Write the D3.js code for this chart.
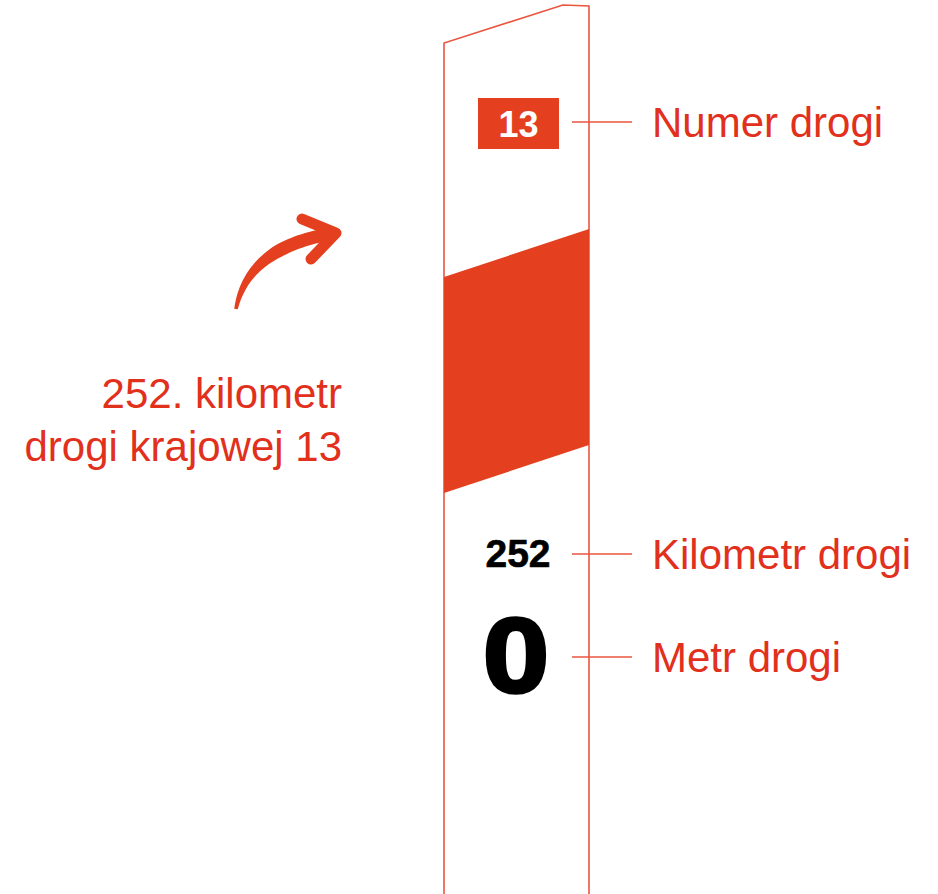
<!DOCTYPE html>
<html>
<head>
<meta charset="utf-8">
<script src="https://cdn.jsdelivr.net/npm/d3@7"></script>
<style>
  html, body { margin: 0; padding: 0; background: #fff; }
  svg { display: block; }
  text { font-family: "Liberation Sans", Arial, sans-serif; }
</style>
</head>
<body>
<div id="chart"></div>
<script>
// values shown on the post
const roadNumber = ["13"];
const kilometer = [252];
const meter = [0];
// labels on the right, top to bottom
const partLabels = ["Numer drogi", "Kilometr drogi", "Metr drogi"];
// caption on the left
const captionLines = ["252. kilometr", "drogi krajowej 13"];

const width = 938, height = 894;
const red = "#e4401f", lineRed = "#ea5640", textRed = "#e1301c";

const svg = d3.select("#chart").append("svg")
  .attr("width", width)
  .attr("height", height);

// post coordinates: x 0..1 across the post, y in pixels
const x = d3.scaleLinear().domain([0, 1]).range([444, 589]);
const slope = 48; // how much higher the right side sits

// post outline
const outline = d3.path();
outline.moveTo(x(0), height);
outline.lineTo(x(0), 43);
outline.lineTo(x(0.82), 5);
outline.lineTo(x(1), 6);
outline.lineTo(x(1), height);
svg.append("path")
  .attr("d", outline.toString())
  .attr("fill", "none")
  .attr("stroke", lineRed)
  .attr("stroke-width", 1.6);

// red slanted band
const bandTop = 277, bandBottom = 493;
svg.append("path")
  .attr("d", d3.line()([
    [x(0), bandTop], [x(1), bandTop - slope],
    [x(1), bandBottom - slope], [x(0), bandBottom]
  ]) + "Z")
  .attr("fill", red);

// road number box
svg.append("rect")
  .attr("x", 478).attr("y", 98)
  .attr("width", 81).attr("height", 51)
  .attr("fill", red);
svg.append("text")
  .attr("x", 518.5).attr("y", 137)
  .attr("text-anchor", "middle")
  .attr("font-size", 36)
  .attr("font-weight", "bold")
  .attr("fill", "#fff")
  .text(roadNumber[0]);

// kilometer and meter
svg.append("text")
  .attr("x", 518).attr("y", 567)
  .attr("text-anchor", "middle")
  .attr("font-size", 39)
  .attr("font-weight", "bold")
  .attr("fill", "#000")
  .attr("stroke", "#000")
  .attr("stroke-width", 0.6)
  .text(kilometer[0]);
svg.append("text")
  .attr("transform", "translate(516,692) scale(1.12,1)")
  .attr("text-anchor", "middle")
  .attr("font-size", 106)
  .attr("font-weight", "bold")
  .attr("fill", "#000")
  .attr("stroke", "#000")
  .attr("stroke-width", 3.5)
  .text(meter[0]);

// leader lines + labels
const labelY = [122, 554, 657];
const labels = svg.selectAll("g.part")
  .data(partLabels)
  .enter().append("g")
  .attr("class", "part")
  .attr("transform", (d, i) => "translate(0," + labelY[i] + ")");
labels.append("line")
  .attr("x1", 572).attr("x2", 632)
  .attr("stroke", lineRed)
  .attr("stroke-width", 1.6);
labels.append("text")
  .attr("x", 652).attr("y", 14.5)
  .attr("font-size", 42)
  .attr("fill", textRed)
  .text(d => d);

// caption
svg.append("g").selectAll("text")
  .data(captionLines)
  .enter().append("text")
  .attr("x", 342)
  .attr("y", (d, i) => 408 + i * 53)
  .attr("text-anchor", "end")
  .attr("font-size", 42)
  .attr("fill", textRed)
  .text(d => d);

// brush-like arrow: tapered body along a quadratic curve
const p0 = [236, 309], c = [248, 248], p1 = [330, 234];
const n = 40, left = [], right = [];
for (let i = 0; i <= n; i++) {
  const t = i / n;
  const px = (1 - t) * (1 - t) * p0[0] + 2 * (1 - t) * t * c[0] + t * t * p1[0];
  const py = (1 - t) * (1 - t) * p0[1] + 2 * (1 - t) * t * c[1] + t * t * p1[1];
  const dx = 2 * (1 - t) * (c[0] - p0[0]) + 2 * t * (p1[0] - c[0]);
  const dy = 2 * (1 - t) * (c[1] - p0[1]) + 2 * t * (p1[1] - c[1]);
  const len = Math.hypot(dx, dy);
  const w = 1.8 + 4.7 * Math.min(1, t * 1.6);
  left.push([px - dy / len * w, py + dx / len * w]);
  right.push([px + dy / len * w, py - dx / len * w]);
}
svg.append("path")
  .attr("d", d3.line()(left.concat(right.reverse())) + "Z")
  .attr("fill", red);
svg.append("path")
  .attr("d", d3.line()([[302, 219], [336, 233], [311, 259]]))
  .attr("fill", "none")
  .attr("stroke", red)
  .attr("stroke-width", 11)
  .attr("stroke-linecap", "round")
  .attr("stroke-linejoin", "round");
</script>
</body>
</html>
